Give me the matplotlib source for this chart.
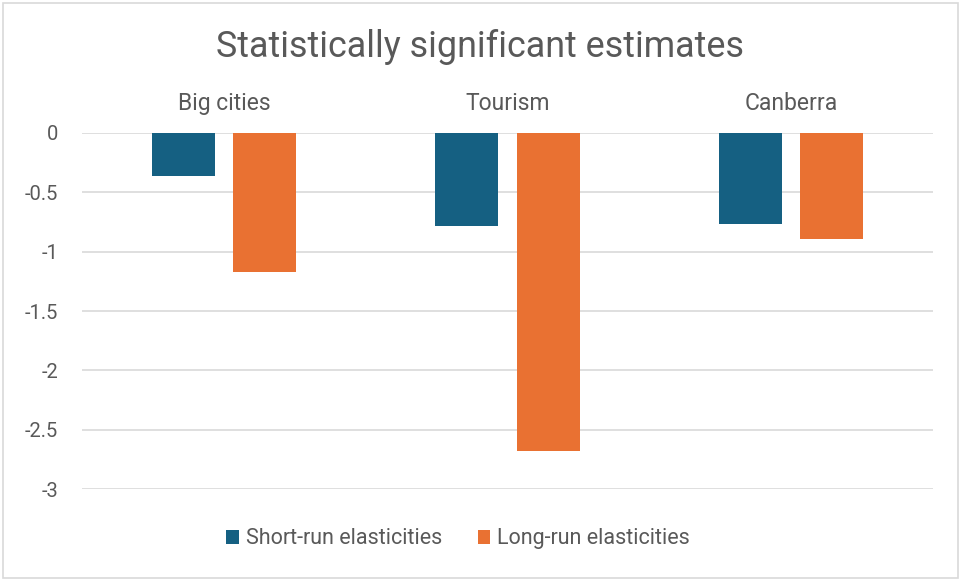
import numpy as np
import matplotlib.pyplot as plt
from matplotlib.patches import FancyBboxPatch

# chart data
categories = ['Big cities', 'Tourism', 'Canberra']
short_run = [-0.36, -0.78, -0.77]
long_run = [-1.17, -2.68, -0.89]
series_names = ['Short-run elasticities', 'Long-run elasticities']
y_ticks = [0, -0.5, -1, -1.5, -2, -2.5, -3]

blue = '#156082'
orange = '#E97132'
text_gray = '#595959'

plt.rcParams['font.family'] = ['Roboto', 'DejaVu Sans']

fig = plt.figure(figsize=(9.61, 5.81), dpi=100)
ax = fig.add_axes([0.0853, 0.1583, 0.8857, 0.6128])

x = np.arange(len(categories))
width = 0.222
offset = 0.143
ax.bar(x - offset, short_run, width, color=blue, label=series_names[0], zorder=3)
ax.bar(x + offset, long_run, width, color=orange, label=series_names[1], zorder=3)

ax.set_xlim(-0.5, len(categories) - 0.5)
ax.set_ylim(-3, 0)
ax.set_yticks(y_ticks)
ax.set_yticklabels([f'{v:g}' for v in y_ticks])
ax.yaxis.grid(True, color='#D9D9D9', linewidth=1.2, zorder=0)
ax.tick_params(axis='y', length=0, pad=17, labelsize=14.5, labelcolor=text_gray)

# category labels sit above the zero line
ax.xaxis.tick_top()
ax.set_xticks(x)
ax.set_xticklabels(categories)
ax.tick_params(axis='x', length=0, pad=13, labelsize=16.5, labelcolor=text_gray)

for spine in ax.spines.values():
    spine.set_visible(False)

fig.text(0.5, 0.919, 'Statistically significant estimates', ha='center', va='center',
         fontsize=25.8, color=text_gray)

leg = fig.legend(loc='center', bbox_to_anchor=(0.4766, 0.0723), ncol=2, frameon=False,
                 fontsize=15.5, handlelength=0.6, handleheight=0.6, handletextpad=0.3,
                 columnspacing=1.65)
for t in leg.get_texts():
    t.set_color(text_gray)

# light border round the chart area
border = FancyBboxPatch((0.003, 0.005), 0.994, 0.99, boxstyle='square,pad=0',
                        transform=fig.transFigure, fill=False, edgecolor='#D9D9D9',
                        linewidth=1.2)
fig.patches.append(border)

fig.savefig('out.png', dpi=100)
